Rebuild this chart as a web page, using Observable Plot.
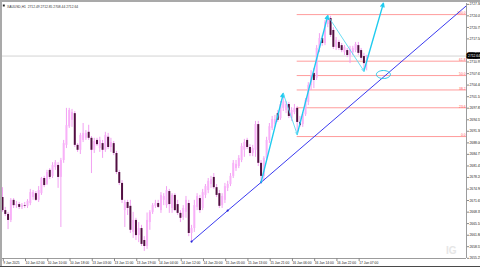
<!DOCTYPE html>
<html>
<head>
<meta charset="utf-8">
<script src="https://cdn.jsdelivr.net/npm/d3@7"></script>
<script src="https://cdn.jsdelivr.net/npm/@observablehq/plot@0.6"></script>
<style>
html,body{margin:0;padding:0;background:#fff;}
body{width:480px;height:267px;overflow:hidden;position:relative;}
#chart{position:absolute;left:0;top:0;}
.bar{position:absolute;background:#a9a9a9;}
</style>
</head>
<body>
<div id="chart"></div>
<div class="bar" style="left:0;top:0;width:480px;height:2px;"></div>
<div class="bar" style="left:0;top:0;width:1.6px;height:267px;"></div>
<div class="bar" style="left:0;top:265.5px;width:480px;height:1.5px;background:#4a4a4a;"></div>
<script>
// ---- data (XAUUSD, H1) ----
const titleText = "XAUUSD,H1  2712.49 2712.85 2708.44 2712.64";

const open = [2672.5,2668.8,2667.7,2666.0,2671.7,2670.2,2670.5,2669.7,2670.2,2670.0,
2670.8,2672.5,2673.6,2671.7,2673.6,2677.9,2676.2,2680.2,2678.5,2681.0,
2681.6,2678.2,2683.0,2687.3,2692.6,2694.4,2696.3,2687.3,2685.9,2688.7,
2689.3,2691.0,2689.3,2685.9,2688.7,2686.4,2687.8,2685.9,2689.6,2686.7,
2687.8,2685.0,2679.6,2676.5,2668.8,2671.1,2670.0,2662.6,2666.0,2661.7,
2663.7,2660.3,2658.6,2665.4,2668.3,2670.0,2670.8,2668.8,2671.7,2670.2,
2674.2,2669.4,2673.1,2670.5,2668.0,2666.8,2668.3,2670.8,2662.3,2663.7,
2669.7,2672.2,2669.4,2673.1,2674.5,2676.2,2678.2,2675.3,2673.6,2670.2,
2671.7,2675.1,2676.2,2678.5,2680.7,2681.3,2683.0,2685.9,2688.7,2686.7,
2685.0,2685.9,2693.2,2682.2,2678.5,2683.6,2688.7,2692.1,2693.2,2696.3,
2694.9,2697.8,2697.2,2698.9,2694.9,2696.6,2697.8,2693.8,2693.2,2696.0,
2699.5,2704.3,2707.7,2706.3,2714.8,2717.6,2716.2,2721.6,2723.3,2719.9,
2715.1,2716.5,2715.6,2713.6,2714.2,2712.8,2713.6,2714.2,2715.6,2714.2,
2712.5,2712.49];

const high = [2675.3,2669.7,2668.3,2672.2,2672.2,2671.4,2671.1,2670.8,2671.1,2671.9,
2674.8,2674.5,2674.2,2675.6,2678.2,2678.5,2680.2,2680.7,2682.4,2683.0,
2682.4,2683.6,2688.7,2697.8,2697.8,2697.5,2696.9,2687.8,2690.7,2693.5,
2691.5,2693.0,2689.8,2689.3,2689.3,2689.6,2688.7,2691.0,2690.7,2689.3,
2688.4,2685.6,2680.2,2677.3,2671.7,2671.7,2671.7,2668.3,2666.6,2665.4,
2664.6,2661.4,2668.1,2668.8,2670.8,2671.7,2671.7,2673.9,2673.6,2675.6,
2674.8,2673.6,2673.6,2671.7,2668.8,2670.2,2672.8,2671.7,2664.6,2671.7,
2673.6,2673.1,2674.8,2676.2,2677.9,2678.5,2679.3,2676.2,2674.5,2673.6,
2676.5,2677.1,2679.3,2683.0,2683.0,2684.4,2687.8,2689.0,2689.3,2687.5,
2687.3,2694.1,2694.1,2683.0,2684.1,2689.6,2693.5,2695.5,2695.8,2697.2,
2699.7,2702.0,2699.7,2699.5,2698.0,2698.9,2698.3,2695.5,2696.6,2700.6,
2705.1,2708.5,2709.1,2715.6,2719.0,2718.5,2722.7,2724.1,2723.9,2720.7,
2717.9,2717.1,2716.2,2715.6,2714.8,2715.4,2715.4,2716.5,2716.5,2714.8,
2713.4,2712.85];

const low = [2668.3,2667.1,2663.4,2665.4,2669.4,2669.4,2669.1,2669.1,2669.4,2669.4,
2670.2,2671.7,2671.4,2671.1,2673.1,2675.3,2675.9,2677.6,2677.9,2680.2,
2675.1,2664.0,2682.2,2686.4,2692.1,2692.4,2686.7,2685.3,2684.7,2688.1,
2688.7,2688.7,2679.3,2685.0,2687.0,2685.3,2683.6,2685.3,2686.1,2685.3,
2684.4,2679.0,2675.9,2670.8,2664.0,2667.4,2662.3,2660.9,2660.3,2659.7,
2658.6,2657.2,2657.8,2663.2,2667.7,2669.4,2669.4,2668.0,2670.2,2669.4,
2668.0,2668.0,2668.5,2667.4,2665.4,2666.0,2666.6,2661.4,2660.0,2662.6,
2668.8,2668.0,2668.8,2672.2,2673.6,2675.1,2674.8,2672.5,2669.4,2669.4,
2670.8,2674.2,2675.6,2677.9,2679.9,2680.7,2682.4,2683.9,2686.1,2684.1,
2684.1,2683.9,2681.3,2676.8,2677.1,2683.0,2687.8,2691.5,2692.4,2693.8,
2694.4,2696.9,2696.3,2694.9,2694.1,2696.0,2690.4,2692.4,2692.4,2695.5,
2698.6,2702.9,2703.4,2705.7,2713.6,2715.4,2715.6,2720.7,2717.9,2714.5,
2714.2,2714.2,2713.6,2712.8,2712.2,2710.5,2712.8,2713.6,2712.8,2711.4,
2709.0,2708.44];

const close = [2668.8,2667.7,2666.0,2671.7,2670.2,2670.5,2669.7,2670.2,2670.0,2671.4,
2673.9,2673.9,2671.7,2674.5,2677.9,2675.9,2679.6,2678.2,2681.6,2682.4,
2678.2,2683.0,2687.8,2692.9,2697.2,2696.6,2687.3,2685.9,2690.1,2690.7,
2690.7,2689.3,2685.9,2688.4,2687.5,2688.7,2685.9,2690.1,2686.7,2688.1,
2685.0,2679.6,2676.5,2671.7,2671.1,2669.4,2663.2,2666.0,2661.7,2663.7,
2659.2,2658.6,2666.0,2668.3,2670.2,2670.8,2669.7,2673.1,2672.8,2674.5,
2670.5,2673.1,2668.8,2668.0,2666.6,2669.4,2671.7,2662.3,2663.7,2670.2,
2672.8,2668.8,2673.9,2675.6,2677.1,2677.6,2675.3,2673.1,2670.0,2672.8,
2675.6,2676.2,2678.5,2682.2,2681.9,2683.6,2687.0,2688.1,2686.7,2685.0,
2686.4,2693.2,2682.2,2678.5,2683.6,2688.7,2692.6,2694.6,2694.6,2694.4,
2698.9,2699.7,2698.9,2695.5,2697.2,2697.8,2693.8,2692.9,2696.0,2700.0,
2704.3,2707.1,2705.7,2714.8,2717.6,2716.2,2722.2,2723.3,2718.5,2715.1,
2717.1,2714.8,2714.2,2715.1,2712.8,2714.5,2714.8,2715.9,2713.4,2712.0,
2710.5,2712.64];

// x-axis labels, one every 8 bars
const xTickIdx = [0,8,16,24,32,40,48,56,64,72,80,88,96,104,112,120,128];
const xLabels = ["9 Jan 2025","10 Jan 02:00","10 Jan 10:00","10 Jan 18:00","13 Jan 03:00","13 Jan 11:00",
  "13 Jan 19:00","14 Jan 04:00","14 Jan 12:00","14 Jan 20:00","15 Jan 05:00","15 Jan 13:00",
  "15 Jan 21:00","16 Jan 06:00","16 Jan 14:00","16 Jan 22:00","17 Jan 07:00"];

// price scale labels (the one behind the current-price box is hidden)
const yTicks = [2727.30,2724.05,2720.75,2717.50,2710.95,2707.65,2704.40,2701.10,2697.85,
  2694.55,2691.30,2688.00,2684.75,2681.45,2678.20,2674.90,2671.65,2668.35,2665.10,
  2661.80,2658.55,2655.25];

// Fibonacci retracement
const fibLevels = [0, 23.6, 38.2, 50.0, 61.8, 100.0];
const fibStartIdx = 106;
const fibLowPrice = 2689.8;
const fibHighPrice = 2724.4;

// zigzag arrows (bar index, price)
const zzIdx = [93, 101, 106, 117, 130, 137];
const zzPrice = [2676.8, 2702.0, 2690.4, 2724.1, 2708.4, 2727.6];

// blue trend line (bar index, price)
const trendIdx = [68, 81, 93, 167];
const trendPrice = [2660.0, 2668.8, 2676.8, 2727.0];

// cyan ellipse marker
const ellipseIdx = 137;
const ellipsePrice = 2707.4;

const lastPrice = 2712.64;

// ---- build tables ----
const candles = open.map((o, i) => ({i, o, h: high[i], l: low[i], c: close[i], up: close[i] >= o}));
const fib = fibLevels.map(r => ({label: r.toFixed(1), price: fibLowPrice + (fibHighPrice - fibLowPrice) * r / 100}));
const legs = zzIdx.slice(0, -1).map((x, k) => ({x1: x, y1: zzPrice[k], x2: zzIdx[k + 1], y2: zzPrice[k + 1], up: zzPrice[k + 1] > zzPrice[k]}));
const trend = trendIdx.map((x, k) => ({i: x, p: trendPrice[k]}));

const ellipseSymbol = {
  draw(ctx) {
    const rx = 7, ry = 4, k = 0.5523;
    ctx.moveTo(rx, 0);
    ctx.bezierCurveTo(rx, ry * k, rx * k, ry, 0, ry);
    ctx.bezierCurveTo(-rx * k, ry, -rx, ry * k, -rx, 0);
    ctx.bezierCurveTo(-rx, -ry * k, -rx * k, -ry, 0, -ry);
    ctx.bezierCurveTo(rx * k, -ry, rx, -ry * k, rx, 0);
    ctx.closePath();
  }
};

const xMin = -0.72, xMax = 166.9, yMin = 2655.2, yMax = 2727.55;
const FS = 3.3;

const chart = Plot.plot({
  width: 480, height: 267,
  marginLeft: 0, marginRight: 14, marginTop: 3, marginBottom: 9,
  x: {domain: [xMin, xMax], axis: null},
  y: {domain: [yMin, yMax], axis: null},
  style: {background: "transparent", fontFamily: "'Liberation Sans', Arial, sans-serif", fontSize: FS + "px", color: "#222"},
  marks: [
    Plot.ruleY([lastPrice], {stroke: "#c6c6c6", strokeWidth: 0.8}),
    Plot.ruleY(fib, {y: "price", x1: fibStartIdx, x2: xMax, stroke: "#ff9c9c", strokeWidth: 1}),
    Plot.text(fib, {y: "price", x: xMax, text: "label", textAnchor: "end", dx: -1, dy: -1.2, fill: "#ff5555", fontSize: FS}),
    Plot.ruleX(candles, {x: "i", y1: "l", y2: "h", stroke: "#f096f0", strokeWidth: 0.9}),
    Plot.ruleX(candles.filter(d => d.up), {x: "i", y1: "o", y2: "c", stroke: "#f8b0f8", strokeWidth: 2}),
    Plot.ruleX(candles.filter(d => !d.up), {x: "i", y1: "o", y2: "c", stroke: "#520f42", strokeWidth: 2}),
    Plot.line(trend, {x: "i", y: "p", stroke: "#3a3af0", strokeWidth: 1, clip: true}),
    Plot.dot(trend.slice(0, 3), {x: "i", y: "p", r: 1.1, fill: "#2a2ad8"}),
    Plot.arrow(legs.filter(d => d.up), {x1: "x1", y1: "y1", x2: "x2", y2: "y2", stroke: "#1fcbef", strokeWidth: 1.4, headLength: 4, headAngle: 50}),
    Plot.arrow(legs.filter(d => !d.up), {x1: "x1", y1: "y1", x2: "x2", y2: "y2", stroke: "#5ad8f2", strokeWidth: 0.9, headLength: 4, headAngle: 50}),
    Plot.dot([{i: ellipseIdx, p: ellipsePrice}], {x: "i", y: "p", symbol: ellipseSymbol, stroke: "#28c4e6", fill: "none", strokeWidth: 1}),
    Plot.ruleY([yMin], {stroke: "#9c9c9c", strokeWidth: 1}),
    Plot.ruleX([xMax], {stroke: "#9c9c9c", strokeWidth: 1}),
    Plot.axisY(yTicks, {anchor: "right", tickSize: 2, tickPadding: 1, tickFormat: d => d.toFixed(2), fontSize: FS, fill: "#222", stroke: "#888"}),
    Plot.axisX(xTickIdx, {anchor: "bottom", tickSize: 3, tickPadding: 0.3, textAnchor: "start", dx: 0.8,
      tickFormat: i => xLabels[xTickIdx.indexOf(i)], fontSize: FS, fill: "#222", stroke: "#888"}),
    Plot.text([lastPrice], {y: d => d, frameAnchor: "right", dx: 1.6, textAnchor: "start", text: d => d.toFixed(2),
      fill: "white", stroke: "black", strokeWidth: 3.6, paintOrder: "stroke", fontSize: FS}),
    Plot.dot([titleText], {frameAnchor: "top-left", dx: 3.3, dy: 2, symbol: "square", r: 1.1, fill: "#222"}),
    Plot.text([titleText], {frameAnchor: "top-left", dx: 6.5, dy: 2, textAnchor: "start", text: d => d, fontSize: FS, fill: "#333"}),
    Plot.text(["IG"], {frameAnchor: "bottom-right", dx: -10, dy: -5, text: d => d, fontSize: 10, fontWeight: "bold", fill: "#e6e6e6"})
  ]
});
document.getElementById("chart").appendChild(chart);
</script>
</body>
</html>
